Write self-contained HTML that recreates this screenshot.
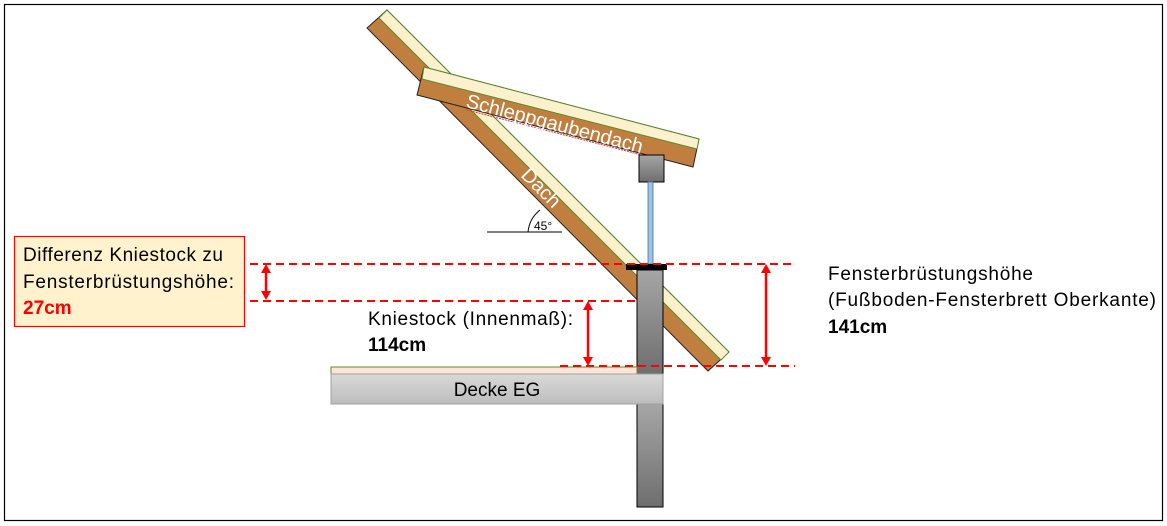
<!DOCTYPE html>
<html><head><meta charset="utf-8"><style>
html,body{margin:0;padding:0;background:#fff;}
svg{display:block;font-family:"Liberation Sans",sans-serif;}
</style></head><body>
<svg width="1167" height="526" viewBox="0 0 1167 526" xmlns="http://www.w3.org/2000/svg">
<defs>
<linearGradient id="gw" x1="0" y1="0" x2="0" y2="1"><stop offset="0" stop-color="#a6a6a6"/><stop offset="1" stop-color="#6e6e6e"/></linearGradient>
<linearGradient id="gd" x1="0" y1="0" x2="0" y2="1"><stop offset="0" stop-color="#d9d9d9"/><stop offset="1" stop-color="#bdbdbd"/></linearGradient>
</defs>
<rect x="4.5" y="4.5" width="1158" height="516" fill="#fff" stroke="#000" stroke-width="1.2"/>

<!-- main roof -->
<polygon points="387,10 729,352 708,371 367,28" fill="#c07f3f" stroke="#222" stroke-width="1"/>
<polygon points="387,10 729,352 721,360 379,18" fill="#fbf1cd" stroke="#5a8a2e" stroke-width="1"/>

<!-- dormer roof -->
<polygon points="424,67 699,139 693,167 417,95" fill="#c07f3f" stroke="#222" stroke-width="1"/>
<polygon points="424,67 699,139 697,149 422,79" fill="#fbf1cd" stroke="#5a8a2e" stroke-width="1"/>
<line x1="467" y1="110" x2="642" y2="155" stroke="#e33" stroke-width="1" stroke-dasharray="2,1"/>
<text x="0" y="0" fill="#fff" font-size="20" transform="translate(465,107) rotate(14.7)" textLength="182">Schleppgaubendach</text>
<text x="0" y="0" fill="#fff" font-size="20" transform="translate(520,176) rotate(45)">Dach</text>

<!-- angle -->
<line x1="487" y1="232" x2="562" y2="232" stroke="#000" stroke-width="1"/>
<path d="M528,232 A32,32 0 0 1 540,210" fill="none" stroke="#000" stroke-width="1"/>
<text x="534" y="230" font-size="12">45°</text>

<!-- window parts -->
<rect x="639" y="155" width="25" height="27" fill="url(#gw)" stroke="#000" stroke-width="1"/>
<rect x="648" y="182" width="5" height="82" fill="#9dc3e6" stroke="#41719c" stroke-width="0.8"/>
<rect x="626" y="264" width="41" height="6" fill="#000"/>
<rect x="637" y="270" width="26" height="104" fill="url(#gw)" stroke="#000" stroke-width="1"/>
<rect x="637" y="404" width="26" height="103" fill="url(#gw)" stroke="#000" stroke-width="1"/>

<!-- floor -->
<rect x="331" y="367" width="306" height="7" fill="#fbe5d6" stroke="#5a8a2e" stroke-width="1"/>
<rect x="331" y="374" width="332" height="30" fill="url(#gd)" stroke="#a0a0a0" stroke-width="1"/>
<text x="497" y="396" font-size="19" text-anchor="middle">Decke EG</text>

<!-- dashed lines -->
<g stroke="#ff0000" stroke-width="2" stroke-dasharray="8,5" fill="none">
<line x1="250" y1="264" x2="795" y2="264"/>
<line x1="250" y1="301" x2="637" y2="301"/>
<line x1="560" y1="366" x2="795" y2="366"/>
</g>
<!-- arrows -->
<g stroke="#ff0000" stroke-width="2.5" fill="#ff0000">
<line x1="266" y1="270" x2="266" y2="294"/>
<line x1="588" y1="307" x2="588" y2="360"/>
<line x1="766" y1="270" x2="766" y2="360"/>
</g>
<g fill="#ff0000">
<polygon points="266,264 261,273 271,273"/><polygon points="266,300 261,291 271,291"/>
<polygon points="588,301 583,310 593,310"/><polygon points="588,366 583,357 593,357"/>
<polygon points="766,264 761,273 771,273"/><polygon points="766,366 761,357 771,357"/>
</g>

<!-- left box -->
<rect x="14.5" y="236.5" width="230" height="90" fill="#fff2cc" stroke="#ff0000" stroke-width="1.2"/>
<text x="23" y="261" font-size="19" textLength="200">Differenz Kniestock zu</text>
<text x="23" y="288" font-size="19" textLength="211">Fensterbrüstungshöhe:</text>
<text x="23" y="314" font-size="19" font-weight="bold" fill="#ff0000">27cm</text>

<text x="368" y="325" font-size="19" textLength="205">Kniestock (Innenmaß):</text>
<text x="368" y="351" font-size="19" font-weight="bold">114cm</text>

<text x="828" y="280" font-size="19" textLength="205">Fensterbrüstungshöhe</text>
<text x="828" y="306" font-size="19" textLength="328">(Fußboden-Fensterbrett Oberkante)</text>
<text x="828" y="333" font-size="19" font-weight="bold">141cm</text>
</svg>
</body></html>
